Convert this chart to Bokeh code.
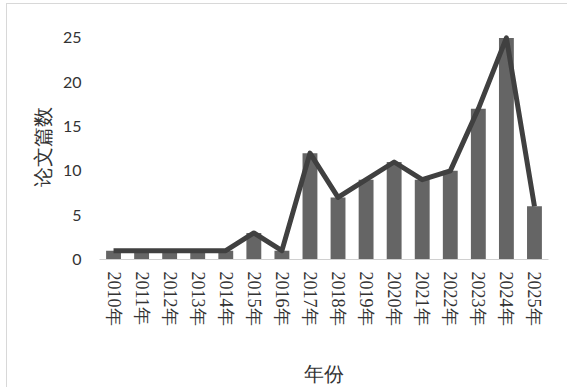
from bokeh.plotting import figure
from bokeh.embed import file_html
from bokeh.resources import INLINE
from bokeh.models import ColumnDataSource, FixedTicker, Range1d

years = ["2010年", "2011年", "2012年", "2013年", "2014年", "2015年", "2016年", "2017年",
         "2018年", "2019年", "2020年", "2021年", "2022年", "2023年", "2024年", "2025年"]
counts = [1, 1, 1, 1, 1, 3, 1, 12, 7, 9, 11, 9, 10, 17, 25, 6]
y_ticks = [0, 5, 10, 15, 20, 25]

src = ColumnDataSource(dict(year=years, count=counts))

p = figure(x_range=years, y_range=Range1d(0, 25.5), width=561, height=384,
           output_backend="svg", toolbar_location=None,
           min_border_left=92, min_border_right=20, min_border_top=29, min_border_bottom=129)
p.margin = (3, 0, 0, 6)
p.styles = {"border-top": "1px solid #d8d8d8", "border-left": "1px solid #d8d8d8"}

p.vbar(x="year", top="count", width=0.53, source=src, fill_color="#656565", line_color=None)
p.line(x="year", y="count", source=src, line_color="#404040", line_width=5, line_join="round")

p.outline_line_color = None
p.xgrid.grid_line_color = None
p.ygrid.grid_line_color = None
p.x_range.range_padding = 0

p.yaxis.ticker = FixedTicker(ticks=y_ticks)
p.yaxis.axis_line_color = None
p.yaxis.major_tick_line_color = None
p.yaxis.minor_tick_line_color = None
p.yaxis.major_label_text_font = "Lato"
p.yaxis.major_label_text_font_size = "16px"
p.yaxis.major_label_text_color = "#333333"
p.yaxis.major_label_standoff = 12
p.yaxis.axis_label = "论文篇数"
p.yaxis.axis_label_text_font = "Liberation Serif"
p.yaxis.axis_label_text_font_size = "20px"
p.yaxis.axis_label_text_font_style = "normal"
p.yaxis.axis_label_text_color = "#333333"
p.yaxis.axis_label_standoff = 6

p.xaxis.axis_line_color = "#d0d0d0"
p.xaxis.major_tick_line_color = None
p.xaxis.minor_tick_line_color = None
p.xaxis.major_label_orientation = "vertical"
p.xaxis.major_label_text_font = "Liberation Serif"
p.xaxis.major_label_text_font_size = "18px"
p.xaxis.major_label_text_color = "#333333"
p.xaxis.major_label_standoff = 6
p.xaxis.axis_label = "年份"
p.xaxis.axis_label_text_font = "Liberation Serif"
p.xaxis.axis_label_text_font_size = "20px"
p.xaxis.axis_label_text_font_style = "normal"
p.xaxis.axis_label_text_color = "#333333"
p.xaxis.axis_label_standoff = 34

open("out.html", "w").write(file_html(p, INLINE))
